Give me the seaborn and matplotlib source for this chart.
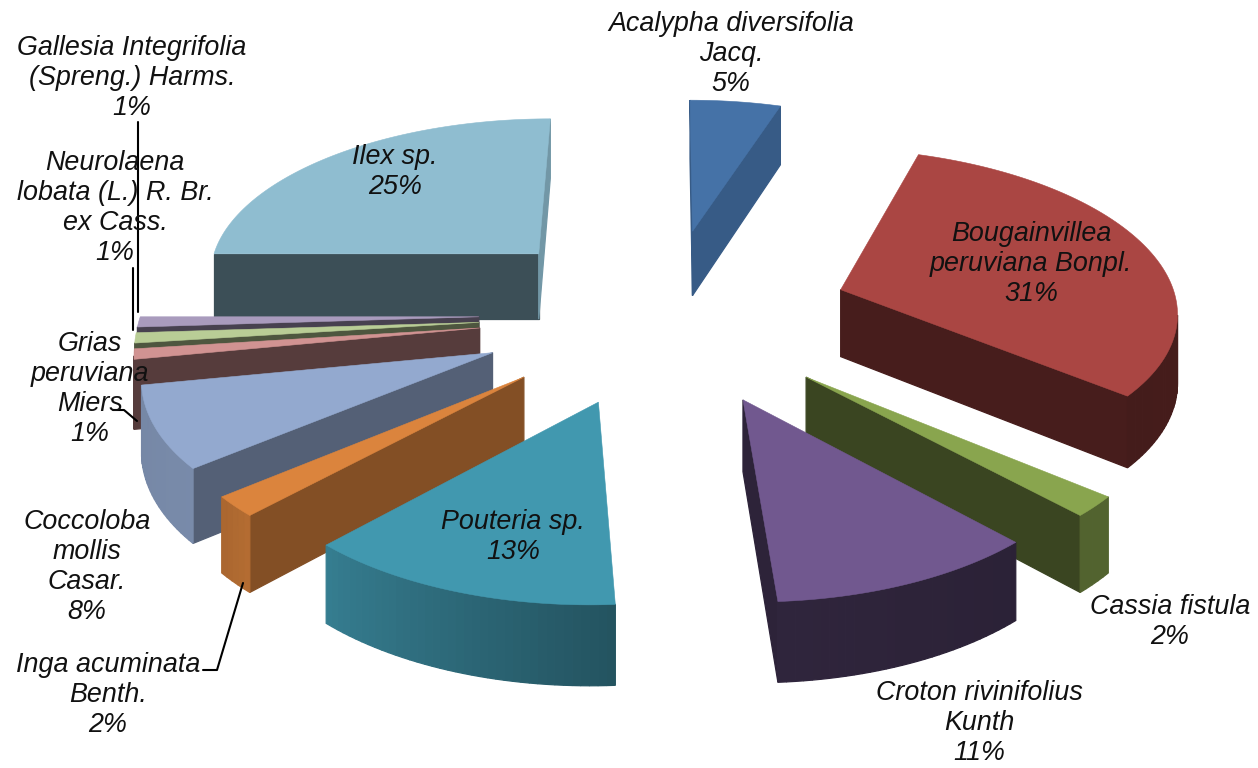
import numpy as np
import matplotlib
matplotlib.use('Agg')
import matplotlib.pyplot as plt
import seaborn as sns

# dados da pizza, sentido horario a partir do topo
especies = ['Acalypha diversifolia\nJacq.', 'Bougainvillea\nperuviana Bonpl.', 'Cassia fistula',
            'Croton rivinifolius\nKunth', 'Pouteria sp.', 'Inga acuminata\nBenth.',
            'Coccoloba\nmollis\nCasar.', 'Grias\nperuviana\nMiers', 'Neurolaena\nlobata (L.) R. Br.\nex Cass.',
            'Gallesia Integrifolia\n(Spreng.) Harms.', 'Ilex sp.']
percentuais = [5, 31, 2, 11, 13, 2, 8, 1, 1, 1, 25]

cores_topo = ['#4572A7', '#AA4643', '#89A54E', '#71588F', '#4198AF', '#DB843D',
              '#93A9CF', '#D19392', '#B9CD96', '#A99BBD', '#8FBDD0']

# quanto escurece cada parede: borda inicial, borda final, arco no comeco e no fim
sombra_ini = [0.80, 0.42, 0.42, 0.40, 0.55, 0.60, 0.57, 0.41, 0.42, 0.42, 0.42]
sombra_fim = [0.80, 0.42, 0.42, 0.40, 0.62, 0.62, 0.57, 0.41, 0.42, 0.42, 0.80]
sombra_arco_a = [0.70, 0.44, 0.60, 0.38, 0.55, 0.82, 0.82, 0.41, 0.42, 0.42, 0.70]
sombra_arco_b = [0.70, 0.40, 0.60, 0.42, 0.82, 0.78, 0.80, 0.41, 0.42, 0.42, 0.70]

# onde fica cada rotulo (x, y em pixels da imagem)
rotulos_xy = [(731, 54), (1031, 264), (1170, 622), (979, 723), (513, 537), (108, 695),
              (87, 567), (90, 389), (115, 208), (132, 78), (395, 172)]

# parametros da perspectiva
CX, CY = 665, 314
ESCALA = 338
DIST = 9.5
FUGA = 1530
ALTURA = 68
EXPLODE = 0.55

sns.set_theme(style='white')
plt.rcParams['font.family'] = ['Liberation Sans', 'DejaVu Sans']


def projeta(x, y, z=0.0):
    # y positivo vai para o fundo, z=1 e a base da fatia
    w = DIST + y
    s = DIST / w
    return CX + ESCALA * x * s, CY + FUGA * (s - 1) + ALTURA * z * s


def area(pts):
    p = np.array(pts)
    return 0.5 * np.sum(p[:, 0] * np.roll(p[:, 1], -1) - np.roll(p[:, 0], -1) * p[:, 1])


def parede(ax, a, b, cor):
    # so desenha a face que olha para a camera
    pts = [projeta(*a, 0), projeta(*b, 0), projeta(*b, 1), projeta(*a, 1)]
    if area(pts) < 0:
        ax.fill(*zip(*pts), color=cor, lw=0.9)


fig, ax = plt.subplots(figsize=(12.58, 7.68), dpi=100)
fig.subplots_adjust(0, 0, 1, 1)
ax.set_xlim(0, 1258)
ax.set_ylim(768, 0)
ax.axis('off')

limites = np.cumsum([0] + percentuais) * 3.6
fatias = []
for i in range(len(percentuais)):
    ang = np.radians(np.linspace(limites[i], limites[i + 1], max(4, percentuais[i] * 3)))
    meio = np.radians((limites[i] + limites[i + 1]) / 2)
    ox, oy = EXPLODE * np.sin(meio), EXPLODE * np.cos(meio)
    arco = np.column_stack([ox + np.sin(ang), oy + np.cos(ang)])
    fatias.append((oy + np.cos(meio) * 0.5, i, (ox, oy), arco))

# do fundo para a frente
for _, i, apice, arco in sorted(fatias, key=lambda f: -f[0]):
    cor = np.array(matplotlib.colors.to_rgb(cores_topo[i]))
    parede(ax, apice, arco[0], cor * sombra_ini[i])
    parede(ax, arco[-1], apice, cor * sombra_fim[i])
    tons = np.linspace(sombra_arco_a[i], sombra_arco_b[i], len(arco) - 1)
    for k in range(len(arco) - 1):
        parede(ax, arco[k], arco[k + 1], cor * tons[k])
    topo = [projeta(*apice)] + [projeta(*p) for p in arco]
    ax.fill(*zip(*topo), color=cor, lw=0.4)

# linhas de chamada
chamadas = [((138, 122), (138, 312)), ((133, 268), (133, 330)), ((113, 410), (124, 410), (137, 421)),
            ((203, 670), (217, 670), (243, 583))]
for linha in chamadas:
    ax.plot(*zip(*linha), color='black', lw=1.5)

for nome, pct, (x, y) in zip(especies, percentuais, rotulos_xy):
    ax.text(x, y, f'{nome}\n{pct}%', ha='center', va='center', style='italic', fontsize=19.4,
            color='#111111', linespacing=1.21)

fig.savefig('out.png', dpi=100)
